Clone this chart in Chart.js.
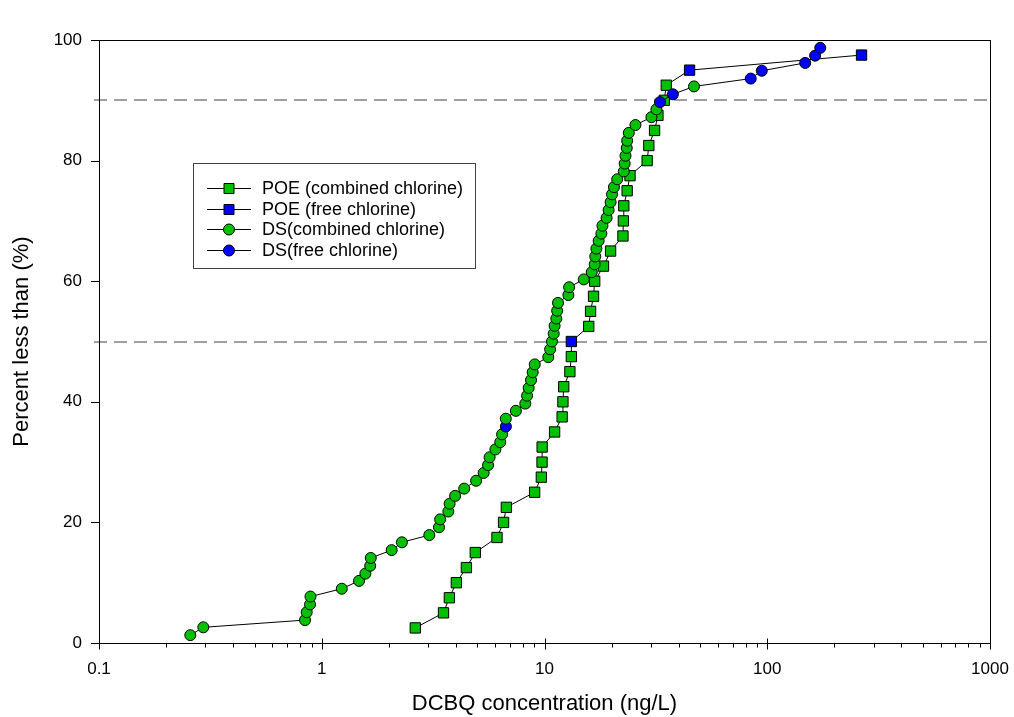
<!DOCTYPE html>
<html>
<head>
<meta charset="utf-8">
<script src="https://cdn.jsdelivr.net/npm/chart.js@4.4.1/dist/chart.umd.min.js"></script>
<style>
  html, body { margin: 0; padding: 0; background: #fff; }
</style>
</head>
<body>
<canvas id="myChart" width="1014" height="717"></canvas>
<script>
// POE samples: concentration (ng/L), cumulative percent, disinfectant type
const poeConc = [2.63, 3.52, 3.74, 4.02, 4.46, 4.89, 6.12, 6.55, 6.74, 9.03,
  9.68, 9.75, 9.76, 11.1, 12.0, 12.1, 12.2, 13.0, 13.2, 13.2,
  15.8, 16.1, 16.6, 16.8, 18.4, 19.8, 22.5, 22.6, 22.7, 23.5,
  24.2, 28.9, 29.4, 31.2, 32.3, 34.5, 35.2, 44.8, 265];
const poePct = [2.5, 5, 7.5, 10, 12.5, 15, 17.5, 20, 22.5, 25,
  27.5, 30, 32.5, 35, 37.5, 40, 42.5, 45, 47.5, 50,
  52.5, 55, 57.5, 60, 62.5, 65, 67.5, 70, 72.5, 75,
  77.5, 80, 82.5, 85, 87.5, 90, 92.5, 95, 97.5];
const poeChlorine = ['c', 'c', 'c', 'c', 'c', 'c', 'c', 'c', 'c', 'c',
  'c', 'c', 'c', 'c', 'c', 'c', 'c', 'c', 'c', 'f',
  'c', 'c', 'c', 'c', 'c', 'c', 'c', 'c', 'c', 'c',
  'c', 'c', 'c', 'c', 'c', 'c', 'c', 'f', 'f'];

// DS samples
const dsConc = [0.257, 0.294, 0.841, 0.856, 0.886, 0.89, 1.23, 1.47, 1.57, 1.65,
  1.66, 2.06, 2.29, 3.04, 3.36, 3.40, 3.70, 3.75, 3.97, 4.36,
  4.93, 5.33, 5.58, 5.67, 6.02, 6.33, 6.45, 6.71, 6.70, 7.44,
  8.20, 8.35, 8.49, 8.70, 8.85, 9.04, 10.4, 10.6, 10.8, 11.0,
  11.1, 11.3, 11.4, 11.5, 12.8, 12.9, 15.0, 16.3, 16.8, 16.9,
  17.1, 17.5, 18.0, 18.2, 19.0, 19.4, 19.8, 20.1, 20.5, 21.2,
  22.7, 22.9, 23.1, 23.4, 23.5, 23.9, 25.6, 30.2, 31.8, 33.0,
  37.7, 46.9, 84.3, 94.5, 148, 164, 173];
const dsPct = [1.3, 2.6, 3.8, 5.1, 6.4, 7.7, 9.0, 10.3, 11.5, 12.8,
  14.1, 15.4, 16.7, 17.9, 19.2, 20.5, 21.8, 23.1, 24.4, 25.6,
  26.9, 28.2, 29.5, 30.8, 32.1, 33.3, 34.6, 35.9, 37.2, 38.5,
  39.7, 41.0, 42.3, 43.6, 44.9, 46.2, 47.4, 48.7, 50.0, 51.3,
  52.6, 53.8, 55.1, 56.4, 57.7, 59.0, 60.3, 61.5, 62.8, 64.1,
  65.4, 66.7, 67.9, 69.2, 70.5, 71.8, 73.1, 74.4, 75.6, 76.9,
  78.2, 79.5, 80.8, 82.1, 83.3, 84.6, 85.9, 87.2, 88.5, 89.7,
  91.0, 92.3, 93.6, 94.9, 96.2, 97.4, 98.7];
const dsChlorine = ['c', 'c', 'c', 'c', 'c', 'c', 'c', 'c', 'c', 'c',
  'c', 'c', 'c', 'c', 'c', 'c', 'c', 'c', 'c', 'c',
  'c', 'c', 'c', 'c', 'c', 'c', 'c', 'f', 'c', 'c',
  'c', 'c', 'c', 'c', 'c', 'c', 'c', 'c', 'c', 'c',
  'c', 'c', 'c', 'c', 'c', 'c', 'c', 'c', 'c', 'c',
  'c', 'c', 'c', 'c', 'c', 'c', 'c', 'c', 'c', 'c',
  'c', 'c', 'c', 'c', 'c', 'c', 'c', 'c', 'c', 'f',
  'f', 'c', 'f', 'f', 'f', 'f', 'f'];

const xTicks = [0.1, 1, 10, 100, 1000];
const yTicks = [0, 20, 40, 60, 80, 100];
const refLines = [50, 90];
const legendLabels = ['POE (combined chlorine)', 'POE (free chlorine)',
  'DS(combined chlorine)', 'DS(free chlorine)'];

const GREEN = '#00c000';
const BLUE = '#0000ff';
const FONT = '"Liberation Sans", Arial, sans-serif';

const pts = (xs, ys) => xs.map((x, i) => ({ x: x, y: ys[i] }));
const fills = arr => arr.map(c => (c === 'f' ? BLUE : GREEN));

// frame, dashed lines and tick marks
const decorPlugin = {
  id: 'decor',
  beforeDatasetsDraw(chart) {
    const { ctx, chartArea: a, scales: { x, y } } = chart;
    ctx.save();
    ctx.strokeStyle = '#808080';
    ctx.lineWidth = 1.5;
    ctx.setLineDash([13, 7]);
    refLines.forEach(v => {
      const py = Math.round(y.getPixelForValue(v));
      ctx.beginPath();
      ctx.moveTo(a.left - 5, py);
      ctx.lineTo(a.right, py);
      ctx.stroke();
    });
    ctx.setLineDash([]);

    ctx.strokeStyle = '#000';
    ctx.lineWidth = 1;
    ctx.strokeRect(Math.round(a.left) + 0.5, Math.round(a.top) + 0.5,
      Math.round(a.right - a.left), Math.round(a.bottom - a.top));

    const by = Math.round(a.bottom) + 0.5;
    ctx.beginPath();
    xTicks.forEach(v => {
      const px = Math.round(x.getPixelForValue(v)) + 0.5;
      ctx.moveTo(px, by - 5);
      ctx.lineTo(px, by + 6);
    });
    for (let d = 0.1; d < 1000; d *= 10) {
      for (let k = 2; k <= 9; k++) {
        const px = Math.round(x.getPixelForValue(d * k)) + 0.5;
        ctx.moveTo(px, by);
        ctx.lineTo(px, by + 4);
      }
    }
    yTicks.forEach(v => {
      const py = Math.round(y.getPixelForValue(v)) + 0.5;
      ctx.moveTo(a.left - 8, py);
      ctx.lineTo(a.left, py);
    });
    ctx.stroke();
    ctx.restore();
  }
};

const legendPlugin = {
  id: 'boxLegend',
  afterDraw(chart) {
    const ctx = chart.ctx;
    ctx.save();
    ctx.fillStyle = '#fff';
    ctx.fillRect(193, 163, 282, 105);
    ctx.strokeStyle = '#444';
    ctx.lineWidth = 1;
    ctx.strokeRect(193.5, 163.5, 282, 105);
    legendLabels.forEach((text, i) => {
      const cy = Math.round(188 + i * 20.7) + 0.5;
      ctx.strokeStyle = '#000';
      ctx.beginPath();
      ctx.moveTo(207, cy);
      ctx.lineTo(251, cy);
      ctx.stroke();
      ctx.fillStyle = (i % 2 === 1) ? BLUE : GREEN;
      ctx.beginPath();
      if (i < 2) {
        ctx.rect(224, cy - 5, 10, 10);
      } else {
        ctx.arc(229, cy, 5.5, 0, Math.PI * 2);
      }
      ctx.fill();
      ctx.stroke();
      ctx.fillStyle = '#000';
      ctx.font = '18px ' + FONT;
      ctx.textBaseline = 'middle';
      ctx.fillText(text, 262, cy + 1);
    });
    ctx.restore();
  }
};

const ctx = document.getElementById('myChart').getContext('2d');

new Chart(ctx, {
  type: 'scatter',
  data: {
    datasets: [{
      label: 'DS',
      data: pts(dsConc, dsPct),
      showLine: true,
      borderColor: '#000',
      borderWidth: 1,
      pointStyle: 'circle',
      pointRadius: 5.5,
      pointHoverRadius: 5.5,
      pointBackgroundColor: fills(dsChlorine),
      pointBorderColor: '#000',
      pointBorderWidth: 1,
      order: 1
    }, {
      label: 'POE',
      data: pts(poeConc, poePct),
      showLine: true,
      borderColor: '#000',
      borderWidth: 1,
      pointStyle: 'rect',
      pointRadius: 7.3,
      pointHoverRadius: 7.3,
      pointBackgroundColor: fills(poeChlorine),
      pointBorderColor: '#000',
      pointBorderWidth: 1,
      order: 2
    }]
  },
  options: {
    responsive: false,
    animation: false,
    events: [],
    layout: { padding: { top: 40, right: 24, left: 0, bottom: 0 } },
    plugins: {
      legend: { display: false },
      tooltip: { enabled: false }
    },
    scales: {
      x: {
        type: 'logarithmic',
        min: 0.1,
        max: 1000,
        afterBuildTicks: s => { s.ticks = xTicks.map(v => ({ value: v })); },
        afterFit: s => { s.height = 74; s.paddingLeft = 0; s.paddingRight = 0; },
        grid: { display: false, drawTicks: false },
        border: { display: false },
        ticks: {
          autoSkip: false,
          maxRotation: 0,
          padding: 16,
          color: '#000',
          font: { size: 17, family: FONT },
          callback: v => String(v)
        },
        title: {
          display: true,
          text: 'DCBQ concentration (ng/L)',
          color: '#000',
          font: { size: 22, family: FONT },
          padding: { top: 0, bottom: 0 }
        }
      },
      y: {
        min: 0,
        max: 100,
        afterBuildTicks: s => { s.ticks = yTicks.map(v => ({ value: v })); },
        afterFit: s => { s.width = 99; s.paddingTop = 0; s.paddingBottom = 0; },
        grid: { display: false, drawTicks: false },
        border: { display: false },
        ticks: {
          padding: 17,
          color: '#000',
          font: { size: 17, family: FONT }
        },
        title: {
          display: true,
          text: 'Percent less than (%)',
          color: '#000',
          font: { size: 22, family: FONT },
          padding: { top: 9, bottom: 0 }
        }
      }
    }
  },
  plugins: [decorPlugin, legendPlugin]
});
</script>
</body>
</html>
